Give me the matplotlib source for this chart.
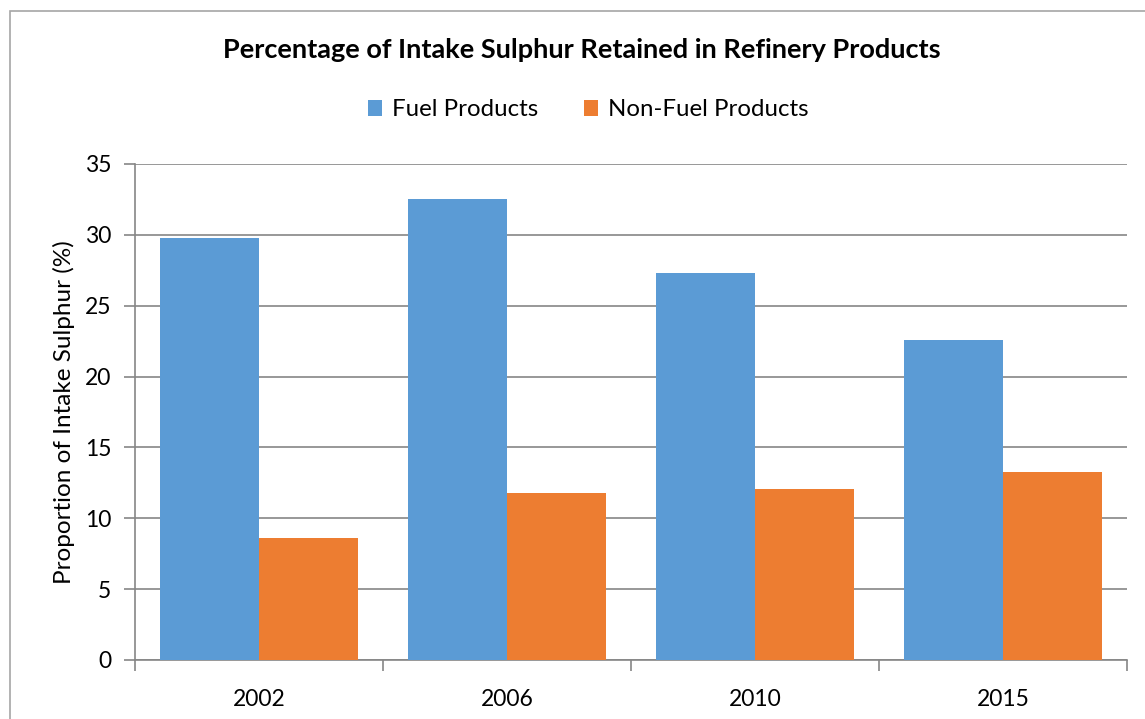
import matplotlib
matplotlib.use("Agg")
import matplotlib.pyplot as plt
import numpy as np
from matplotlib.patches import Rectangle

plt.rcParams['font.family'] = ['Lato', 'DejaVu Sans']

years = ["2002", "2006", "2010", "2015"]
fuel = [29.8, 32.5, 27.3, 22.6]
non_fuel = [8.6, 11.8, 12.1, 13.3]
series_names = ["Fuel Products", "Non-Fuel Products"]
colors = ["#5B9BD5", "#ED7D31"]

W, H = 1145, 719
fig = plt.figure(figsize=(W / 100, H / 100), dpi=100)
ax = fig.add_axes([135 / W, 1 - 660 / H, (1127 - 135) / W, (660 - 164) / H])

x = np.arange(len(years))
bw = 0.4
ax.bar(x - bw / 2, fuel, bw, color=colors[0], label=series_names[0], zorder=3)
ax.bar(x + bw / 2, non_fuel, bw, color=colors[1], label=series_names[1], zorder=3)

ax.set_xlim(-0.5, len(years) - 0.5)
ax.set_ylim(0, 35)
ax.set_yticks(np.arange(0, 36, 5))
ax.set_xticks(x)
ax.set_xticklabels(years)
ax.set_xticks(np.arange(-0.5, len(years), 1), minor=True)
ax.tick_params(axis='x', which='major', length=0, pad=21, labelsize=16.5)
ax.tick_params(axis='x', which='minor', length=8, color='#868686', width=1.2)
ax.tick_params(axis='y', length=8, color='#868686', width=1.2, labelsize=16.5, pad=9)
ax.grid(axis='y', color='#868686', linewidth=1.2, zorder=0)
for s in ['top', 'right']:
    ax.spines[s].set_visible(False)
for s in ['left', 'bottom']:
    ax.spines[s].set_color('#868686')
    ax.spines[s].set_linewidth(1.2)

ax.set_ylabel("Proportion of Intake Sulphur (%)", fontsize=17.5, labelpad=7)

fig.text(582 / W, 1 - 50 / H, "Percentage of Intake Sulphur Retained in Refinery Products",
         ha='center', va='center', fontsize=19.5, fontweight='bold')
fig.legend(loc='center', bbox_to_anchor=(588 / W, 1 - 110 / H), ncol=2, frameon=False,
           fontsize=17.3, handlelength=0.6, handleheight=0.6, columnspacing=1.9, handletextpad=0.4)

fig.patches.append(Rectangle((10 / W, -0.01), 1.2, 1 - 11 / H + 0.01, transform=fig.transFigure,
                             fill=False, edgecolor='#A6A6A6', linewidth=1.2))

fig.savefig("out.png", dpi=100)
